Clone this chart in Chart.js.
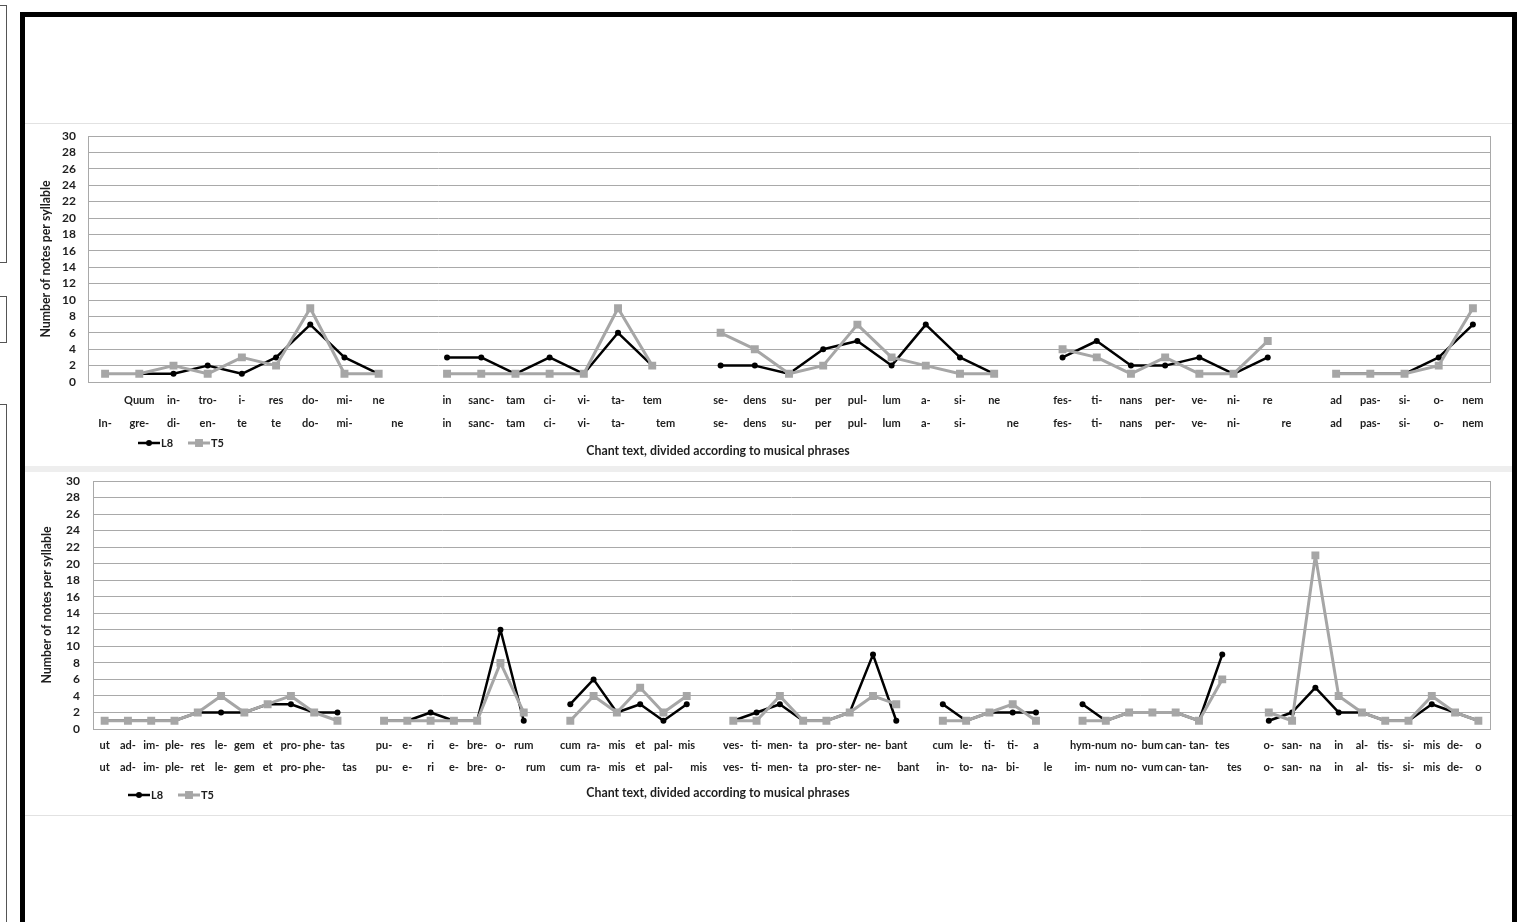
<!DOCTYPE html>
<html>
<head>
<meta charset="utf-8">
<title>Notes per syllable, L8 and T5</title>
<script src="https://cdn.jsdelivr.net/npm/chart.js@4.4.1/dist/chart.umd.min.js"></script>
<style>
  html, body { margin: 0; padding: 0; background: #fff; width: 1519px; height: 922px; overflow: hidden; }
  .side { position: absolute; left: -2px; width: 9px; border: 1px solid #555; box-sizing: border-box; }
  #frame { position: absolute; left: 20px; top: 12px; width: 1487px; height: 960px;
           border-left: 5px solid #000; border-top: 5px solid #000; border-right: 5px solid #000; }
  .panel { position: absolute; left: 25px; }
  .rule { position: absolute; left: 25px; width: 1487px; }
</style>
</head>
<body>
<div class="side" style="top:5px;height:258px;"></div>
<div class="side" style="top:296px;height:47px;"></div>
<div class="side" style="top:404px;height:540px;"></div>
<div id="frame"></div>
<div class="rule" style="top:123px;height:1px;background:#e2e2e2;"></div>
<div class="rule" style="top:466px;height:6px;background:#eeeeee;"></div>
<div class="rule" style="top:815px;height:1px;background:#e2e2e2;"></div>
<canvas id="chartTop" class="panel" style="top:124px;" width="1486" height="342"></canvas>
<canvas id="chartBottom" class="panel" style="top:472px;" width="1486" height="343"></canvas>
<script>
// ---- First part of the chant (syllables per phrase, empty slot between phrases) ----
const topSyllablesL8 = [
  "", "Quum", "in-", "tro-", "i-", "res", "do-", "mi-", "ne", "",
  "in", "sanc-", "tam", "ci-", "vi-", "ta-", "tem", "",
  "se-", "dens", "su-", "per", "pul-", "lum", "a-", "si-", "ne", "",
  "fes-", "ti-", "nans", "per-", "ve-", "ni-", "re", "",
  "ad", "pas-", "si-", "o-", "nem"
];
const topSyllablesT5 = [
  "In-", "gre-", "di-", "en-", "te", "te", "do-", "mi-", "              ne", "",
  "in", "sanc-", "tam", "ci-", "vi-", "ta-", "          tem", "",
  "se-", "dens", "su-", "per", "pul-", "lum", "a-", "si-", "              ne", "",
  "fes-", "ti-", "nans", "per-", "ve-", "ni-", "              re", "",
  "ad", "pas-", "si-", "o-", "nem"
];
const topNotesL8 = [
  null, 1, 1, 2, 1, 3, 7, 3, 1, null,
  3, 3, 1, 3, 1, 6, 2, null,
  2, 2, 1, 4, 5, 2, 7, 3, 1, null,
  3, 5, 2, 2, 3, 1, 3, null,
  1, 1, 1, 3, 7
];
const topNotesT5 = [
  1, 1, 2, 1, 3, 2, 9, 1, 1, null,
  1, 1, 1, 1, 1, 9, 2, null,
  6, 4, 1, 2, 7, 3, 2, 1, 1, null,
  4, 3, 1, 3, 1, 1, 5, null,
  1, 1, 1, 2, 9
];

// ---- Second part of the chant ----
const bottomSyllablesL8 = [
  "ut", "ad-", "im-", "ple-", "res", "le-", "gem", "et", "pro-", "phe-", "tas", "",
  "pu-", "e-", "ri", "e-", "bre-", "o-", "rum", "",
  "cum", "ra-", "mis", "et", "pal-", "mis", "",
  "ves-", "ti-", "men-", "ta", "pro-", "ster-", "ne-", "bant", "",
  "cum", "le-", "ti-", "ti-", "a", "",
  "hym-", "num", "no-", "bum", "can-", "tan-", "tes", "",
  "o-", "san-", "na", "in", "al-", "tis-", "si-", "mis", "de-", "o"
];
const bottomSyllablesT5 = [
  "ut", "ad-", "im-", "ple-", "ret", "le-", "gem", "et", "pro-", "phe-", "         tas", "",
  "pu-", "e-", "ri", "e-", "bre-", "o-", "         rum", "",
  "cum", "ra-", "mis", "et", "pal-", "         mis", "",
  "ves-", "ti-", "men-", "ta", "pro-", "ster-", "ne-", "         bant", "",
  "in-", "to-", "na-", "bi-", "         le", "",
  "im-", "num", "no-", "vum", "can-", "tan-", "         tes", "",
  "o-", "san-", "na", "in", "al-", "tis-", "si-", "mis", "de-", "o"
];
const bottomNotesL8 = [
  1, 1, 1, 1, 2, 2, 2, 3, 3, 2, 2, null,
  1, 1, 2, 1, 1, 12, 1, null,
  3, 6, 2, 3, 1, 3, null,
  1, 2, 3, 1, 1, 2, 9, 1, null,
  3, 1, 2, 2, 2, null,
  3, 1, 2, 2, 2, 1, 9, null,
  1, 2, 5, 2, 2, 1, 1, 3, 2, 1
];
const bottomNotesT5 = [
  1, 1, 1, 1, 2, 4, 2, 3, 4, 2, 1, null,
  1, 1, 1, 1, 1, 8, 2, null,
  1, 4, 2, 5, 2, 4, null,
  1, 1, 4, 1, 1, 2, 4, 3, null,
  1, 1, 2, 3, 1, null,
  1, 1, 2, 2, 2, 1, 6, null,
  2, 1, 21, 4, 2, 1, 1, 4, 2, 1
];

const seriesNames = ["L8", "T5"];
const yAxisTitle = "Number of notes per syllable";
const xAxisTitle = "Chant text, divided according to musical phrases";

const FONT = "Lato, 'Open Sans', sans-serif";
Chart.defaults.font.family = FONT;
Chart.defaults.color = "#1e1e1e";

const GRID = "#a9a9a9";
const TEXT = "#1e1e1e";

// Plot frame round the chart area
const plotFrame = {
  id: "plotFrame",
  beforeDatasetsDraw(chart) {
    const a = chart.chartArea, ctx = chart.ctx;
    ctx.save();
    ctx.strokeStyle = GRID;
    ctx.lineWidth = 1;
    ctx.strokeRect(Math.round(a.left) + 0.5, Math.round(a.top) + 0.5,
                   Math.round(a.right - a.left), Math.round(a.bottom - a.top));
    ctx.restore();
  }
};

function drawMarker(ctx, ds, x, y) {
  ctx.fillStyle = ds.backgroundColor;
  if (ds.pointStyle === "rect") {
    const s = ds.pointRadius * Math.SQRT1_2;
    ctx.fillRect(x - s, y - s, 2 * s, 2 * s);
  } else {
    ctx.beginPath();
    ctx.arc(x, y, ds.pointRadius, 0, Math.PI * 2);
    ctx.fill();
  }
}

// Line-and-marker legend plus the category axis title, drawn below the ticks
const phraseLegend = {
  id: "phraseLegend",
  afterDraw(chart, args, opts) {
    const ctx = chart.ctx;
    const base = chart.chartArea.bottom;
    ctx.save();
    ctx.textBaseline = "middle";
    ctx.font = "bold 11px " + FONT;
    chart.data.datasets.forEach((ds, i) => {
      const x0 = opts.x + i * opts.itemGap;
      const y = base + opts.dy;
      ctx.strokeStyle = ds.borderColor;
      ctx.lineWidth = ds.borderWidth;
      ctx.beginPath();
      ctx.moveTo(x0, y);
      ctx.lineTo(x0 + opts.lineLen, y);
      ctx.stroke();
      drawMarker(ctx, ds, x0 + opts.lineLen / 2, y);
      ctx.fillStyle = TEXT;
      ctx.textAlign = "left";
      ctx.fillText(ds.label, x0 + opts.lineLen + 1, y);
    });
    ctx.textAlign = "center";
    ctx.fillStyle = TEXT;
    ctx.font = "bold 12.3px " + FONT;
    ctx.fillText(opts.title, opts.titleX, base + opts.titleDy);
    ctx.restore();
  }
};

function buildChart(id, rowL8, rowT5, notesL8, notesT5, g) {
  const labels = rowL8.map((s, i) => [s, rowT5[i]]);
  return new Chart(document.getElementById(id), {
    type: "line",
    data: {
      labels: labels,
      datasets: [
        {
          label: seriesNames[0], data: notesL8, order: 1,
          borderColor: "#000000", backgroundColor: "#000000", borderWidth: 2.5,
          borderJoinStyle: "round", borderCapStyle: "round",
          pointStyle: "circle", pointRadius: 3, pointHoverRadius: 3, pointBorderWidth: 0,
          tension: 0, spanGaps: false
        },
        {
          label: seriesNames[1], data: notesT5, order: 0,
          borderColor: "#a6a6a6", backgroundColor: "#a6a6a6", borderWidth: 3,
          borderJoinStyle: "round", borderCapStyle: "round",
          pointStyle: "rect", pointRadius: 5.6, pointHoverRadius: 5.6, pointBorderWidth: 0,
          tension: 0, spanGaps: false
        }
      ]
    },
    options: {
      responsive: false,
      animation: false,
      events: [],
      layout: { padding: { left: 0, right: g.padRight, top: g.padTop, bottom: 0 } },
      plugins: {
        legend: { display: false },
        tooltip: { enabled: false },
        phraseLegend: {
          x: g.legendX, dy: g.legendDy, itemGap: 50, lineLen: 22,
          title: xAxisTitle, titleX: g.titleX, titleDy: g.titleDy
        }
      },
      scales: {
        x: {
          type: "category",
          offset: true,
          grid: { display: false, drawTicks: false },
          border: { display: false },
          ticks: {
            autoSkip: false, maxRotation: 0, minRotation: 0,
            padding: g.xTickPad, color: TEXT,
            font: { size: 11, weight: "bold", lineHeight: g.rowGap / 11 }
          },
          afterFit(scale) {
            scale.height = g.xHeight;
            scale.paddingLeft = 0;
            scale.paddingRight = 0;
          }
        },
        y: {
          min: 0, max: 30,
          grid: { color: GRID, lineWidth: 1, drawTicks: false },
          border: { display: false },
          ticks: {
            stepSize: 2, autoSkip: false, padding: g.yTickPad, color: TEXT,
            font: { size: 12, weight: "bold" }
          },
          title: {
            display: true, text: yAxisTitle, color: TEXT,
            font: { size: 12.3, weight: "bold", lineHeight: 1.2 },
            padding: { top: g.yTitlePad, bottom: 0 }
          },
          afterFit(scale) {
            scale.width = g.yWidth;
            scale.paddingTop = 0;
            scale.paddingBottom = 0;
          }
        }
      }
    },
    plugins: [plotFrame, phraseLegend]
  });
}

buildChart("chartTop", topSyllablesL8, topSyllablesT5, topNotesL8, topNotesT5, {
  padRight: 21, padTop: 12, yWidth: 63, xHeight: 84, xTickPad: 6.5, rowGap: 23,
  yTickPad: 12, yTitlePad: 13.5, legendX: 113, legendDy: 61, titleX: 693, titleDy: 69
});
buildChart("chartBottom", bottomSyllablesL8, bottomSyllablesT5, bottomNotesL8, bottomNotesT5, {
  padRight: 21, padTop: 9, yWidth: 68, xHeight: 86, xTickPad: 5.5, rowGap: 22,
  yTickPad: 13, yTitlePad: 14.5, legendX: 103, legendDy: 66, titleX: 693, titleDy: 64
});
</script>
</body>
</html>
